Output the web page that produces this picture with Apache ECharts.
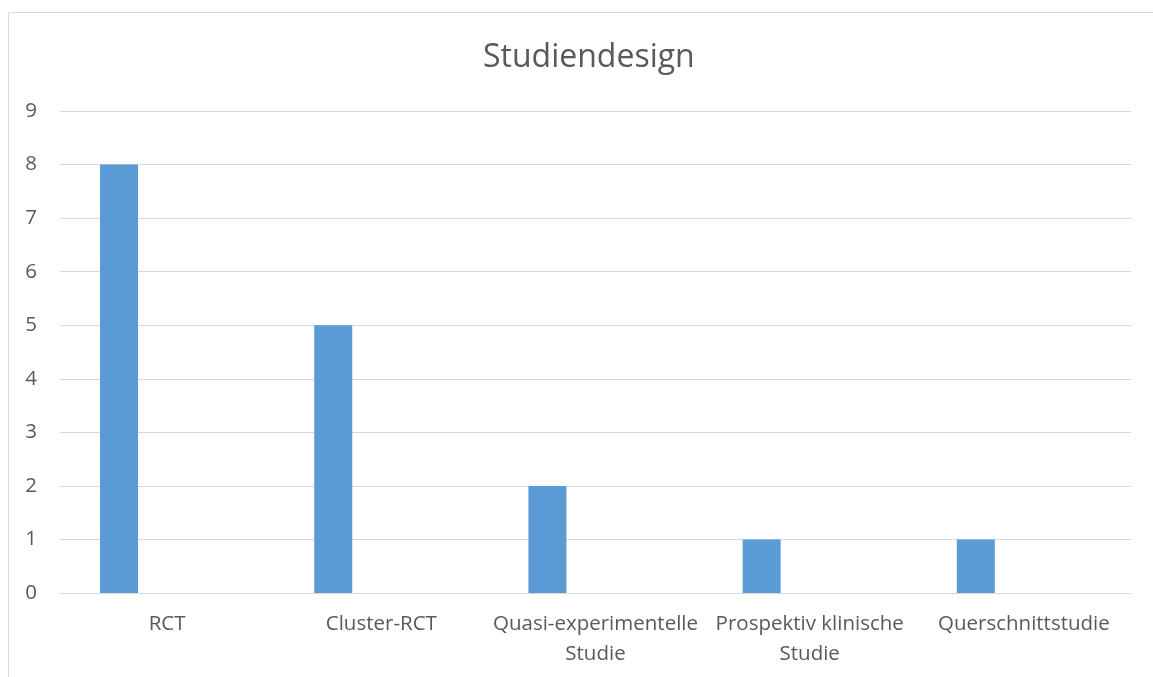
<!DOCTYPE html>
<html>
<head>
<meta charset="utf-8">
<script src="https://cdn.jsdelivr.net/npm/echarts@6/dist/echarts.min.js"></script>
<style>
  html, body { margin: 0; padding: 0; background: #fff; }
  #main { width: 1153px; height: 677px; }
</style>
</head>
<body>
<div id="main"></div>
<script>
const categories = ['RCT', 'Cluster-RCT', 'Quasi-experimentelle\nStudie', 'Prospektiv klinische\nStudie', 'Querschnittstudie'];
const counts = [8, 5, 2, 1, 1];
const emptySeries = [null, null, null, null, null];
const yTicks = [0, 1, 2, 3, 4, 5, 6, 7, 8, 9];

const myChart = echarts.init(document.getElementById('main'));
const labelFont = '"Open Sans", "Noto Sans", sans-serif';

const option = {
  animation: false,
  title: {
    text: 'Studiendesign',
    left: 478,
    top: 37,
    textStyle: { fontFamily: labelFont, fontSize: 32, fontWeight: 'normal', color: '#595959' }
  },
  graphic: [{
    type: 'rect',
    shape: { x: 8.5, y: 12.5, width: 1200, height: 700 },
    style: { fill: 'none', stroke: '#d9d9d9', lineWidth: 1 },
    silent: true
  }],
  grid: { left: 60, right: 22, top: 111, bottom: 84 },
  xAxis: {
    type: 'category',
    data: categories,
    axisLine: { lineStyle: { color: '#d9d9d9', width: 1 } },
    axisTick: { show: false },
    axisLabel: {
      interval: 0, margin: 16, fontFamily: labelFont, fontSize: 20.5,
      color: '#595959', lineHeight: 30
    }
  },
  yAxis: {
    type: 'value',
    min: yTicks[0],
    max: yTicks[yTicks.length - 1],
    interval: 1,
    axisLine: { show: false },
    axisTick: { show: false },
    splitLine: { lineStyle: { color: '#d9d9d9', width: 1 } },
    axisLabel: { margin: 23, fontFamily: labelFont, fontSize: 20.5, color: '#595959' }
  },
  series: [
    { type: 'bar', data: counts, barWidth: 38, barGap: '153%', itemStyle: { color: '#5b9bd5' } },
    { type: 'bar', data: emptySeries, barWidth: 38, itemStyle: { color: '#ed7d31' } }
  ]
};

myChart.setOption(option);
</script>
</body>
</html>
